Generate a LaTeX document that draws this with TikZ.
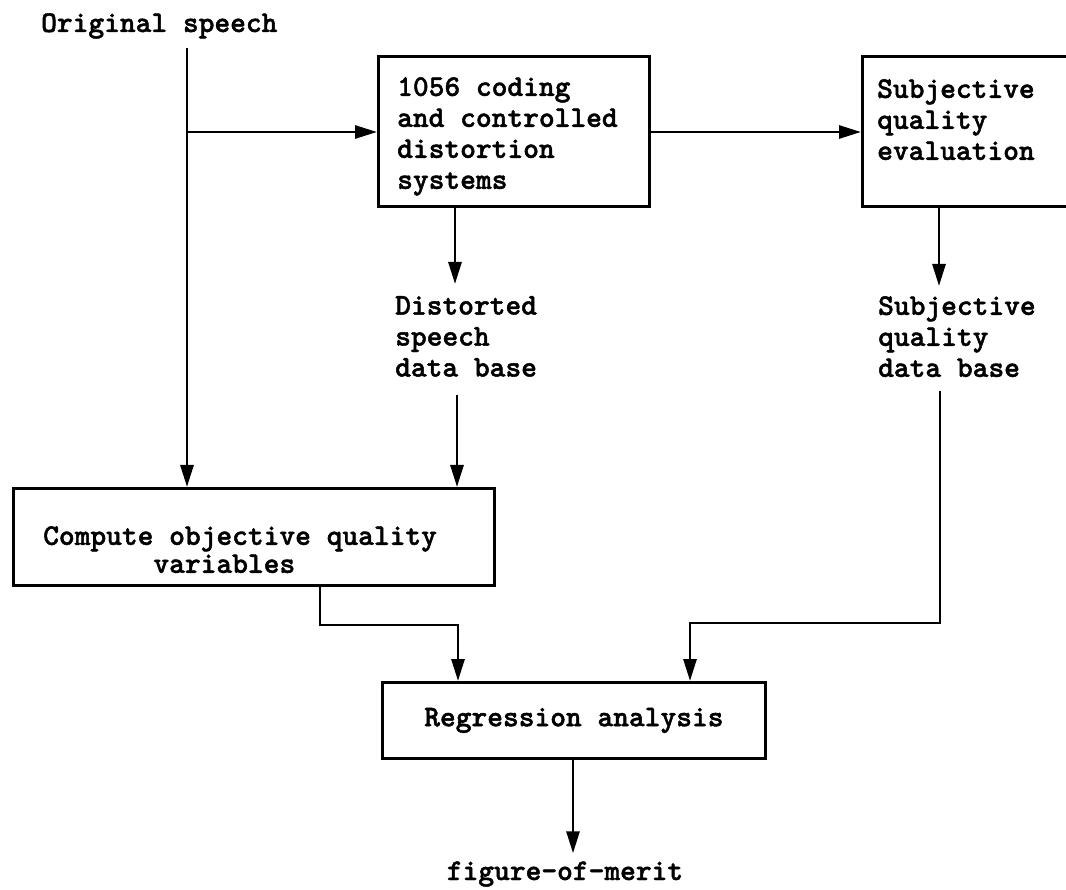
\documentclass[tikz,border=0pt]{standalone}
\usepackage{fontspec}
\newfontfamily\tw{lmmonolt10-bold}[Extension=.otf, FakeBold=1.5]
\usetikzlibrary{arrows.meta}
\begin{document}
\begin{tikzpicture}[x=1pt,y=-1pt,
  lbl/.style={font=\tw\fontsize{30}{31}\selectfont, inner sep=0pt},
  boxst/.style={draw, line width=2.8pt, inner sep=0pt},
  ln/.style={line width=2.8pt, line join=miter},
  arr/.style={ln, -{Triangle[length=22pt,width=13pt]}}]
\useasboundingbox (0,0) rectangle (1066,890);
\clip (0,0) rectangle (1066,890);

% nodes
\node[lbl, anchor=west] (orig) at (41,26) {Original speech};
\node[boxst, anchor=north west, minimum width=271pt, minimum height=150pt] (box1) at (377,55) {};
\node[lbl, align=left, anchor=north west] (box1t) at (397,77) {1056 coding\\and controlled\\distortion\\systems};
\node[boxst, anchor=north west, minimum width=230pt, minimum height=150pt] (box2) at (861,55) {};
\node[lbl, align=left, anchor=north west] (box2t) at (877,79) {Subjective\\quality\\evaluation};
\node[lbl, align=left, anchor=north west] (dist) at (395,296) {Distorted\\speech\\data base};
\node[lbl, align=left, anchor=north west] (sdb) at (878,296) {Subjective\\quality\\data base};
\node[boxst, anchor=north west, minimum width=481pt, minimum height=97pt] (comp) at (12,487) {};
\node[lbl, align=left, anchor=north west, font=\tw\fontsize{30}{28}\selectfont] (compt) at (43,526) {Compute objective quality\\\phantom{Compute}variables};
\node[boxst, lbl, draw, anchor=north west, minimum width=383pt, minimum height=76pt] (reg) at (381,681) {Regression analysis};
\node[lbl, anchor=base] (fom) at (565,880) {figure-of-merit};

% coordinates
\coordinate (o1) at (187,48);
\coordinate (o2) at (187,132);
\coordinate (d1) at (455,0);
\coordinate (d2) at (457,0);
\coordinate (s1) at (939,0);
\coordinate (b2) at (940,623);
\coordinate (b3) at (690,623);
\coordinate (c1) at (320,625);
\coordinate (c2) at (458,625);
\coordinate (f1) at (573,0);

% connectors
\draw[arr] (o1) -- (o1 |- comp.north);
\draw[arr] (o2) -- (o2 -| box1.west);
\draw[arr] (box1.east |- o2) -- (box2.west |- o2);
\draw[arr, shorten >=12pt] (box1.south -| d1) -- (dist.north -| d1);
\draw[arr, shorten <=18pt] (dist.south -| d2) -- (d2 |- comp.north);
\draw[arr, shorten >=10pt] (box2.south -| s1) -- (sdb.north -| s1);
\draw[arr, shorten <=14pt] (sdb.south -| b2) -- (b2) -- (b3) -- (b3 |- reg.north);
\draw[arr] (comp.south -| c1) -- (c1) -- (c2) -- (c2 |- reg.north);
\draw[arr, shorten >=8pt] (reg.south -| f1) -- (f1 |- fom.north);
\end{tikzpicture}
\end{document}
